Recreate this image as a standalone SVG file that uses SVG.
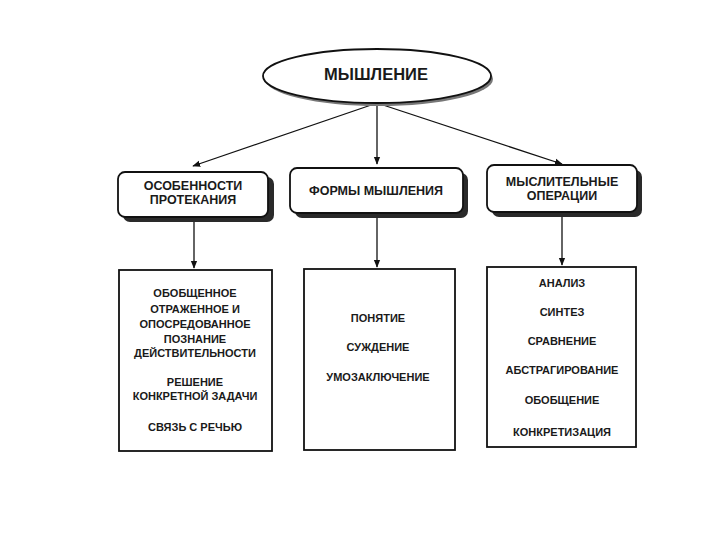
<svg xmlns="http://www.w3.org/2000/svg" width="720" height="540" viewBox="0 0 720 540">
<defs>
<style>
.t{font-family:"Liberation Sans","DejaVu Sans",sans-serif;font-weight:bold;fill:#1a1a1a;text-anchor:middle}
.s{font-size:11px}
.m{font-size:12.5px}
.box{fill:#fff;stroke:#111;stroke-width:1.8}
.sh{fill:#2a2a2a}
.c{stroke:#111;stroke-width:1.3;fill:none}
</style>
<marker id="ah" viewBox="0 0 10 10" refX="9" refY="5" markerWidth="8" markerHeight="8" orient="auto" markerUnits="userSpaceOnUse">
<path d="M0,1 L10,5 L0,9 z" fill="#111"/>
</marker>
</defs>
<rect width="720" height="540" fill="#fff"/>
<g id="connectors">
<line class="c" x1="377" y1="103" x2="193" y2="166" marker-end="url(#ah)"/>
<line class="c" x1="377" y1="103" x2="377" y2="164" marker-end="url(#ah)"/>
<line class="c" x1="377" y1="103" x2="562" y2="164" marker-end="url(#ah)"/>
<line class="c" x1="194" y1="219" x2="194" y2="268" marker-end="url(#ah)"/>
<line class="c" x1="377" y1="215" x2="377" y2="267" marker-end="url(#ah)"/>
<line class="c" x1="562" y1="214" x2="562" y2="265" marker-end="url(#ah)"/>
</g>
<g id="root">
<ellipse cx="379" cy="79" rx="114" ry="27" fill="#777"/>
<ellipse cx="377" cy="76" rx="114" ry="27" fill="#fff" stroke="#111" stroke-width="1.8"/>
<text class="t" x="376" y="80" font-size="16.5">МЫШЛЕНИЕ</text>
</g>
<g id="osobennosti">
<rect class="sh" x="123" y="177" width="151" height="45" rx="7"/>
<rect class="box" x="118" y="172" width="150" height="45" rx="7"/>
<text class="t m" x="193" y="190">ОСОБЕННОСТИ</text>
<text class="t m" x="193" y="204">ПРОТЕКАНИЯ</text>
</g>
<g id="formy">
<rect class="sh" x="295" y="173" width="173" height="45" rx="7"/>
<rect class="box" x="290" y="168" width="173" height="45" rx="7"/>
<text class="t m" x="376" y="195">ФОРМЫ МЫШЛЕНИЯ</text>
</g>
<g id="operacii">
<rect class="sh" x="492" y="170" width="150" height="47" rx="7"/>
<rect class="box" x="487" y="165" width="150" height="47" rx="7"/>
<text class="t m" x="562" y="186">МЫСЛИТЕЛЬНЫЕ</text>
<text class="t m" x="562" y="200">ОПЕРАЦИИ</text>
</g>
<g id="list-osobennosti">
<rect class="box" x="119" y="270" width="153" height="181"/>
<text class="t s" x="195" y="297">ОБОБЩЕННОЕ</text>
<text class="t s" x="195" y="313">ОТРАЖЕННОЕ И</text>
<text class="t s" x="195" y="328">ОПОСРЕДОВАННОЕ</text>
<text class="t s" x="195" y="343">ПОЗНАНИЕ</text>
<text class="t s" x="195" y="357">ДЕЙСТВИТЕЛЬНОСТИ</text>
<text class="t s" x="195" y="386">РЕШЕНИЕ</text>
<text class="t s" x="195" y="400">КОНКРЕТНОЙ ЗАДАЧИ</text>
<text class="t s" x="195" y="431">СВЯЗЬ С РЕЧЬЮ</text>
</g>
<g id="list-formy">
<rect class="box" x="304" y="269" width="151" height="181"/>
<text class="t s" x="378" y="322">ПОНЯТИЕ</text>
<text class="t s" x="378" y="351">СУЖДЕНИЕ</text>
<text class="t s" x="378" y="381">УМОЗАКЛЮЧЕНИЕ</text>
</g>
<g id="list-operacii">
<rect class="box" x="487" y="267" width="149" height="180"/>
<text class="t s" x="562" y="287">АНАЛИЗ</text>
<text class="t s" x="562" y="316">СИНТЕЗ</text>
<text class="t s" x="562" y="345">СРАВНЕНИЕ</text>
<text class="t s" x="562" y="374">АБСТРАГИРОВАНИЕ</text>
<text class="t s" x="562" y="404">ОБОБЩЕНИЕ</text>
<text class="t s" x="562" y="436">КОНКРЕТИЗАЦИЯ</text>
</g>
</svg>
